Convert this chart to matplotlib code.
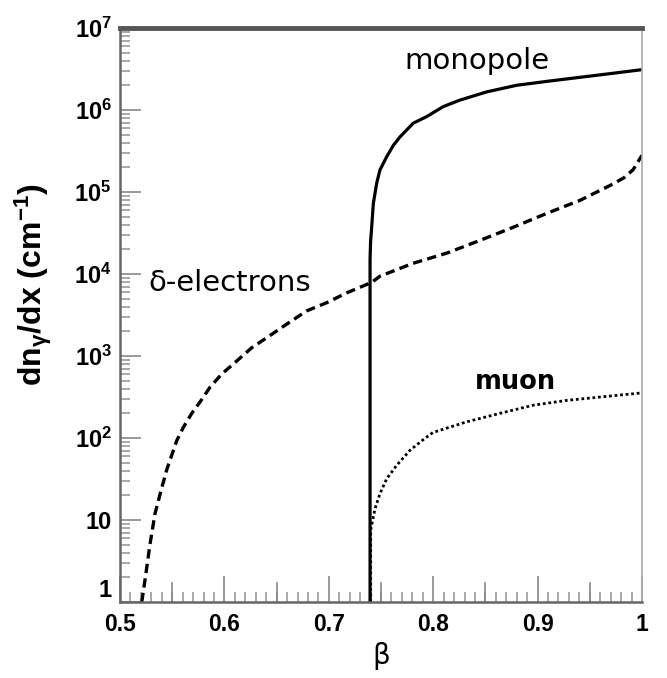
import matplotlib
matplotlib.use("Agg")
import matplotlib.pyplot as plt
from matplotlib.ticker import FixedLocator, MultipleLocator, NullFormatter

plt.rcParams['font.family'] = ['Liberation Sans', 'DejaVu Sans']
plt.rcParams['mathtext.fontset'] = 'custom'
plt.rcParams['mathtext.rm'] = 'Liberation Sans:bold'
plt.rcParams['mathtext.bf'] = 'Liberation Sans:bold'
plt.rcParams['mathtext.it'] = 'Liberation Sans:bold'

# values
mono_beta = [0.7395, 0.7395, 0.7400, 0.7411, 0.7426, 0.7459, 0.7490, 0.7555,
             0.7618, 0.7682, 0.7809, 0.7938, 0.8097, 0.8257, 0.8512, 0.8800,
             0.9100, 0.9406, 0.9722, 1.0]
mono_val = [1, 1.5e4, 2.5e4, 3.8e4, 7.2e4, 1.29e5, 1.86e5, 2.7e5,
            3.7e5, 4.7e5, 6.9e5, 8.3e5, 1.1e6, 1.32e6, 1.66e6, 2.0e6,
            2.24e6, 2.5e6, 2.8e6, 3.1e6]

delta_beta = [0.5208, 0.5239, 0.5287, 0.5335, 0.5393, 0.5447, 0.5543, 0.5606,
              0.5687, 0.5766, 0.5862, 0.5974, 0.6118, 0.6261, 0.6437, 0.6597,
              0.6788, 0.6980, 0.7171, 0.7411, 0.7490, 0.7807, 0.8132, 0.8448,
              0.8764, 0.9090, 0.9406, 0.9722, 0.9830, 0.9914, 1.0]
delta_val = [1, 1.86, 5.1, 12, 23, 41, 93, 135,
             200, 275, 417, 603, 870, 1260, 1780, 2450,
             3550, 4470, 5890, 7900, 9400, 1.35e4, 1.8e4, 2.57e4,
             3.7e4, 5.5e4, 7.9e4, 1.25e5, 1.5e5, 1.86e5, 2.8e5]

muon_beta = [0.7401, 0.7401, 0.7443, 0.7490, 0.7555, 0.7653, 0.7778, 0.7902,
             0.7998, 0.8324, 0.8640, 0.8956, 0.9282, 0.9598, 1.0]
muon_val = [1, 7.6, 13.8, 21, 32, 47, 71, 95,
            117, 158, 200, 251, 288, 316, 355]

ytick_vals = [1, 10, 1e2, 1e3, 1e4, 1e5, 1e6, 1e7]
ytick_labels = ['1', '10', r'$\mathbf{10^{2}}$', r'$\mathbf{10^{3}}$',
                r'$\mathbf{10^{4}}$', r'$\mathbf{10^{5}}$',
                r'$\mathbf{10^{6}}$', r'$\mathbf{10^{7}}$']
xtick_vals = [0.5, 0.6, 0.7, 0.8, 0.9, 1.0]
xtick_labels = ['0.5', '0.6', '0.7', '0.8', '0.9', '1']

fig = plt.figure(figsize=(6.67, 6.78), dpi=100)
ax = fig.add_axes([0.18, 0.112, 0.7825, 0.8468])

ax.plot(mono_beta, mono_val, color='black', lw=2.3, solid_capstyle='butt')
ax.plot(delta_beta, delta_val, color='black', lw=2.4, dashes=(2.8, 1.6))
ax.plot(muon_beta, muon_val, color='black', lw=2.0, linestyle=(0, (1, 1)))

ax.set_yscale('log')
ax.set_xlim(0.5, 1.0)
ax.set_ylim(1, 1e7)

ax.yaxis.set_major_locator(FixedLocator(ytick_vals))
ax.set_yticklabels(ytick_labels)
ax.yaxis.set_minor_formatter(NullFormatter())
ax.set_xticks(xtick_vals)
ax.set_xticklabels(xtick_labels)
ax.xaxis.set_minor_locator(MultipleLocator(0.01))

# medium ticks at every 0.05
for b in [0.55, 0.65, 0.75, 0.85, 0.95]:
    ax.axvline(b, ymin=0, ymax=19 / 574, color='#888888', lw=1.2)

ax.tick_params(axis='both', which='major', direction='in', length=15,
               width=1.2, color='#888888')
ax.tick_params(axis='both', which='minor', direction='in', length=7,
               width=1.2, color='#999999')
ax.tick_params(axis='x', which='major', length=19, pad=8, labelsize=16.5)
ax.tick_params(axis='y', which='major', pad=6, labelsize=17)
for lab in ax.get_xticklabels() + ax.get_yticklabels():
    lab.set_fontweight('bold')
# the "1" sits just above the axis line, clear of "0.5"
ax.get_yticklabels()[0].set_verticalalignment('bottom')

ax.spines['top'].set_color('#555555')
ax.spines['top'].set_linewidth(3.5)
ax.spines['left'].set_color('#666666')
ax.spines['left'].set_linewidth(1.8)
ax.spines['bottom'].set_color('#666666')
ax.spines['bottom'].set_linewidth(1.8)
ax.spines['right'].set_color('#aaaaaa')
ax.spines['right'].set_linewidth(1.2)

ax.set_ylabel(r'dn$_{γ}$/dx (cm$^{-1}$)', fontsize=23, fontweight='bold')
ax.yaxis.set_label_coords(-0.126, 0.552)
ax.set_xlabel('β', fontsize=20, family='DejaVu Sans', labelpad=4)

ax.text(0.842, 3.9e6, 'monopole', fontsize=21, family='DejaVu Sans',
        ha='center', va='center')
ax.text(0.6054, 7.8e3, 'δ-electrons', fontsize=21, family='DejaVu Sans',
        ha='center', va='center')
ax.text(0.879, 480, 'muon', fontsize=18.5, family='DejaVu Sans',
        fontweight='bold', ha='center', va='center')

fig.savefig('out.png', dpi=100)
